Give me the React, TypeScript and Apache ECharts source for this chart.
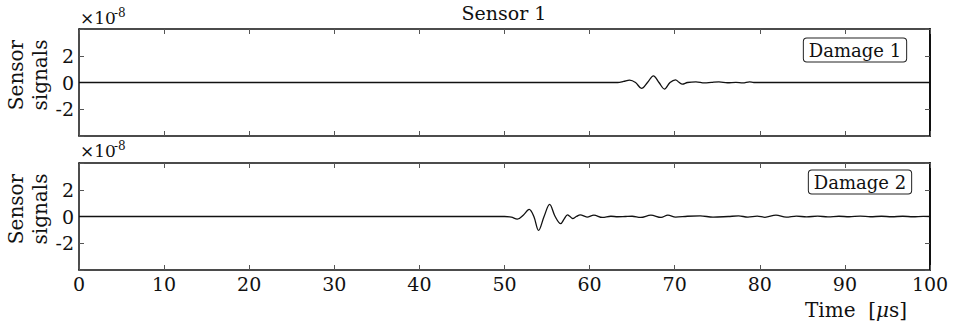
import React, { useEffect, useRef } from 'react';
import * as echarts from 'echarts';

// ---- data (time in µs, signal in units of 1e-8) ----
const xTickValues = [0, 10, 20, 30, 40, 50, 60, 70, 80, 90, 100];
const yTickValues = [-2, 0, 2];

const damage1Time = [0, 62, 63.3, 64.0, 64.7, 65.4, 66.1, 66.8, 67.5, 68.15, 68.8, 69.45, 70.1, 70.5, 70.9, 71.5, 72.5, 73.5, 74.3, 75.2, 76.2, 77.2, 78.0, 78.8, 79.3, 100];
const damage1Signal = [0, 0, 0, 0.08, 0.18, 0, -0.44, 0, 0.5, 0, -0.49, 0, 0.2, 0.02, -0.12, 0, 0.05, -0.03, 0.01, 0.05, -0.02, 0.01, -0.03, 0.05, 0, 0];

const damage2Time = [0, 43.5, 50, 50.8, 51.5, 52.2, 52.9, 53.45, 54.0, 54.65, 55.3, 55.95, 56.6, 57.0, 57.4, 57.7, 58.0, 58.45, 58.9, 59.7, 60.5, 61.5, 62.5, 63.3, 64.2, 65.0, 66.0, 67.2, 68.4, 69.2, 70.1, 71.5, 73.0, 74.5, 76.3, 77.5, 78.6, 79.7, 80.6, 81.9, 83.1, 84.3, 85.5, 86.8, 88.0, 89.3, 90.5, 91.8, 93.0, 94.3, 95.5, 96.8, 98.0, 99.2, 100];
const damage2Signal = [0, 0, 0, -0.05, -0.2, 0.1, 0.54, 0, -1.04, 0, 0.91, 0, -0.54, -0.2, 0.12, 0, -0.15, 0, 0.12, -0.04, 0.1, -0.07, 0.02, -0.02, 0, 0.02, -0.07, 0.1, -0.07, 0.1, -0.05, 0.02, 0.05, -0.05, 0, 0.04, -0.04, 0.03, -0.06, 0.1, -0.05, 0.03, -0.03, 0.03, -0.03, 0.02, -0.02, 0.03, -0.02, 0.02, -0.02, 0.02, -0.02, 0.01, 0];

const panelTitles = ['Damage 1', 'Damage 2'];
const chartTitle = 'Sensor 1';
const yAxisTitle = 'Sensor\nsignals';

const FONT = 'DejaVu Serif';
const INK = '#111';

function pairs(t: number[], v: number[]) {
  return t.map((x, i) => [x, v[i]]);
}

export default function App() {
  const ref = useRef<HTMLDivElement>(null);
  useEffect(() => {
    if (!ref.current) return;
    const chart = echarts.init(ref.current, undefined, { renderer: 'svg' });
    const gridTops = [29, 163];
    const grids = gridTops.map((top) => ({ left: 79, top, width: 851, height: 107 }));

    const xAxes: any[] = [];
    const yAxes: any[] = [];
    [0, 1].forEach((g) => {
      ['bottom', 'top'].forEach((pos) => {
        xAxes.push({
          type: 'value', gridIndex: g, position: pos, min: 0, max: 100, interval: 10,
          axisLine: { show: true, onZero: false, lineStyle: { color: INK, width: 1.5 } },
          axisTick: { show: true, inside: true, length: 5, lineStyle: { color: '#555', width: 1 } },
          axisLabel: {
            show: g === 1 && pos === 'bottom', fontFamily: FONT, fontSize: 19, color: INK, margin: 4,
            formatter: (v: number) => (xTickValues.includes(v) ? String(v) : ''),
          },
          splitLine: { show: false },
        });
      });
      ['left', 'right'].forEach((pos) => {
        yAxes.push({
          type: 'value', gridIndex: g, position: pos, min: -4, max: 4, interval: 2,
          axisLine: { show: true, onZero: false, lineStyle: { color: INK, width: pos === 'right' ? 2 : 1.5 } },
          axisTick: { show: true, inside: true, length: 5, lineStyle: { color: '#555', width: 1 } },
          axisLabel: {
            show: pos === 'left', fontFamily: FONT, fontSize: 19, color: INK, margin: 5,
            formatter: (v: number) => (yTickValues.includes(v) ? String(v) : ''),
          },
          splitLine: { show: false },
        });
      });
    });

    const graphics: any[] = [
      { type: 'text', x: 504, y: 3, style: { text: chartTitle, font: `19px "${FONT}"`, fill: INK, align: 'center', verticalAlign: 'top' } },
    ];
    [[9, 75], [142, 209]].forEach(([expTop, nameY]) => {
      graphics.push({ type: 'text', x: 80, y: expTop, style: { text: '×10', font: `17px "${FONT}"`, fill: INK, align: 'left', verticalAlign: 'top' } });
      graphics.push({ type: 'text', x: 114, y: expTop - 2, style: { text: '-8', font: `12px "${FONT}"`, fill: INK, align: 'left', verticalAlign: 'top' } });
      graphics.push({ type: 'text', x: 28, y: nameY, rotation: Math.PI / 2, style: { text: yAxisTitle, font: `20px "${FONT}"`, lineHeight: 24, fill: INK, align: 'center', verticalAlign: 'middle' } });
    });
    [[855, 50], [860, 182]].forEach(([cx, cy], i) => {
      graphics.push({
        type: 'text', x: cx, y: cy, z: 10,
        style: {
          text: panelTitles[i], font: `18px "${FONT}"`, fill: INK, align: 'center', verticalAlign: 'middle',
          backgroundColor: '#fff', borderColor: '#222', borderWidth: 1, borderRadius: 3, padding: [3, 5, 2, 5],
        },
      });
    });
    graphics.push({
      type: 'text', x: 856, y: 310,
      style: {
        text: 'Time  [{i|μ}s]', font: `20px "${FONT}"`, fill: INK, align: 'center', verticalAlign: 'middle',
        rich: { i: { fontFamily: FONT, fontSize: 20, fontStyle: 'italic', fill: INK } },
      },
    });

    chart.setOption({
      animation: false,
      backgroundColor: '#fff',
      grid: grids,
      xAxis: xAxes,
      yAxis: yAxes,
      series: [
        { type: 'line', xAxisIndex: 0, yAxisIndex: 0, data: pairs(damage1Time, damage1Signal), showSymbol: false, smooth: 0.35, lineStyle: { color: INK, width: 1.3 } },
        { type: 'line', xAxisIndex: 2, yAxisIndex: 2, data: pairs(damage2Time, damage2Signal), showSymbol: false, smooth: 0.35, lineStyle: { color: INK, width: 1.3 } },
      ],
      graphic: graphics,
    });
    return () => chart.dispose();
  }, []);
  return <div ref={ref} style={{ position: 'fixed', left: 0, top: 0, width: 955, height: 328 }} />;
}
